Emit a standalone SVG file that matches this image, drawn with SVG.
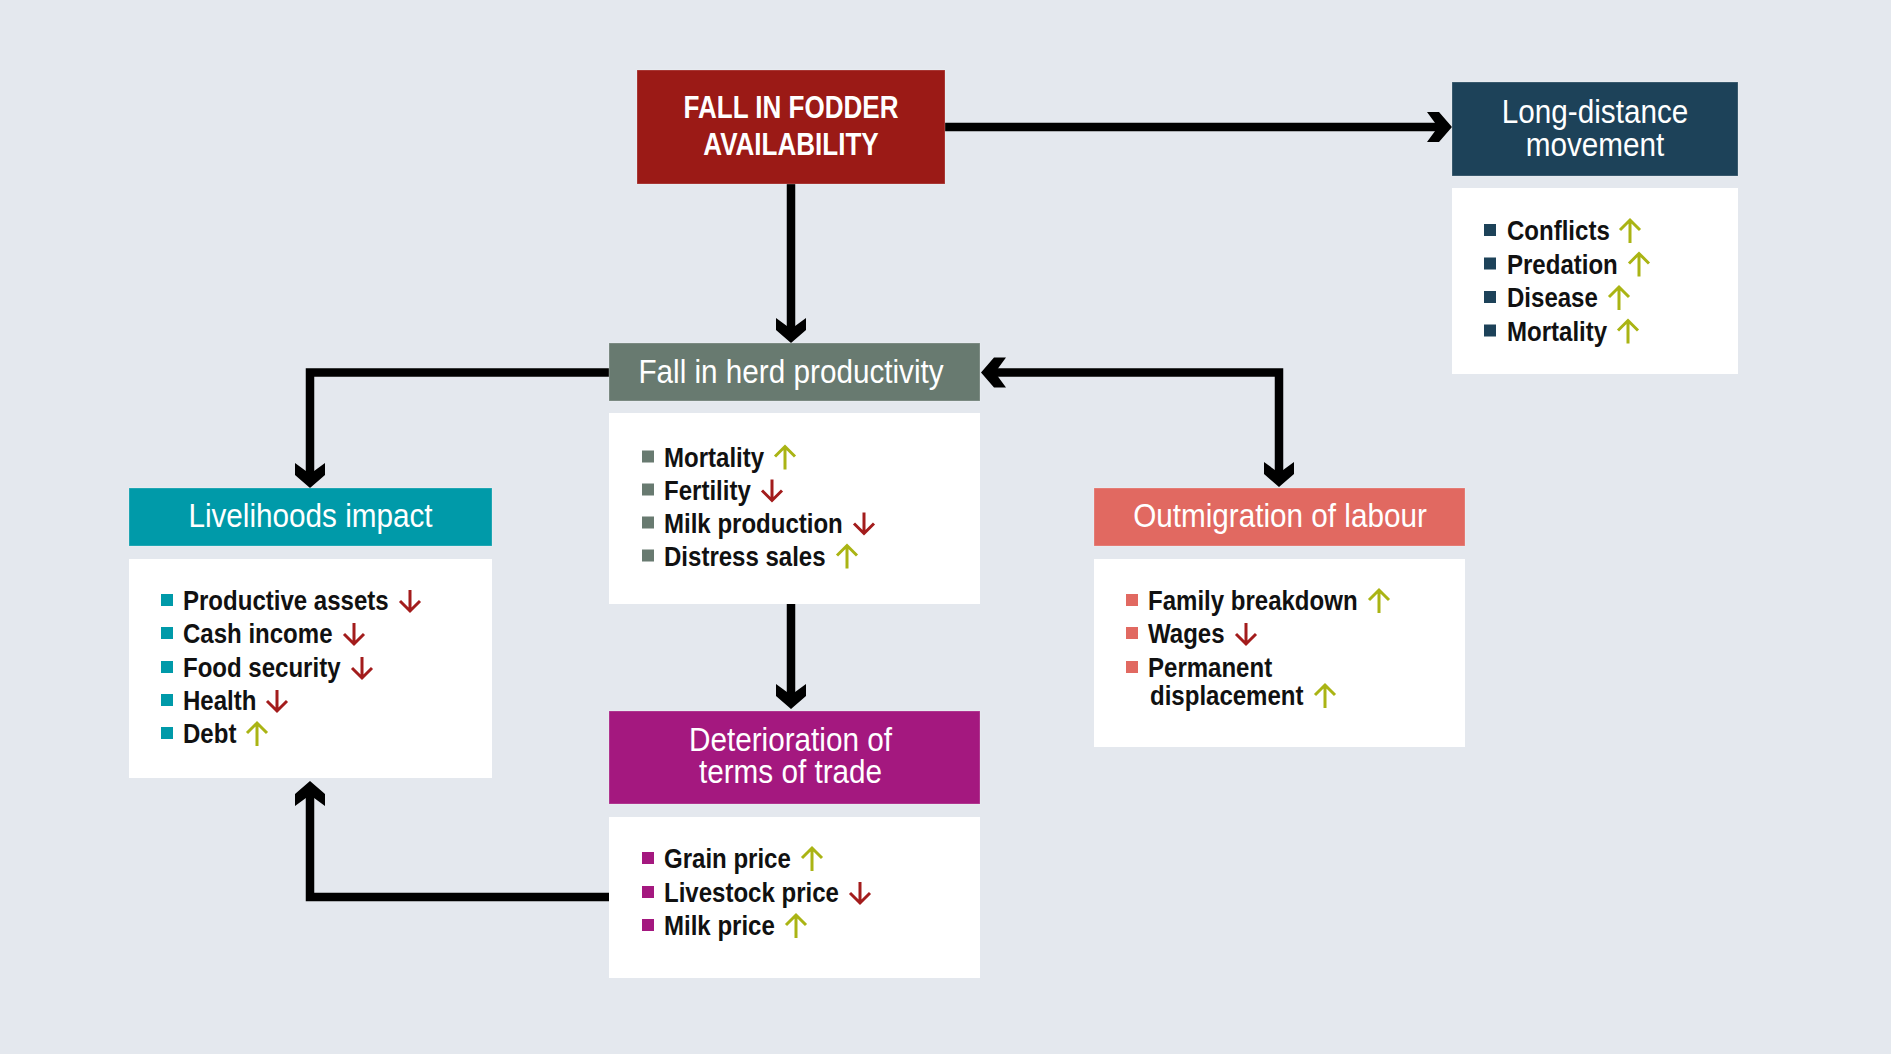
<svg xmlns="http://www.w3.org/2000/svg" width="1891" height="1054" viewBox="0 0 1891 1054">
<style>
.bg{fill:#e4e8ee}
.panel{fill:#ffffff}
.hdr{stroke:#ffffff;stroke-opacity:0.25;stroke-width:1}
.title{font-family:"Liberation Sans",Arial,sans-serif;font-size:33px;fill:#ffffff;text-anchor:middle}
.main{font-family:"Liberation Sans",Arial,sans-serif;font-size:31px;font-weight:bold;fill:#ffffff;text-anchor:middle}
.item{font-family:"Liberation Sans",Arial,sans-serif;font-size:27px;font-weight:bold;fill:#111111}
.up{fill:none;stroke:#aab414;stroke-width:3}
.dn{fill:none;stroke:#a31c1c;stroke-width:3}
.conn{fill:none;stroke:#000000;stroke-width:8.5;stroke-linejoin:miter}
</style>
<defs>
<marker id="chev" markerUnits="userSpaceOnUse" orient="auto-start-reverse" refX="0" refY="0" markerWidth="40" markerHeight="40" style="overflow:visible">
<path d="M7,0 L-6,-15 L-18,-15 L-7,0 L-18,15 L-6,15 Z" fill="#000000"/>
</marker>
<path id="arrUp" d="M11,-20 V3 M1,-10 L11,-20 L21,-10"/>
<path id="arrDn" d="M11,-20 V1 M1,-9 L11,1 L21,-9"/>
</defs>
<rect class="bg" x="0" y="0" width="1891" height="1054"/>

<g id="connectors">
<path class="conn" d="M945,127 H1445" marker-end="url(#chev)"/>
<path class="conn" d="M791,184 V336" marker-end="url(#chev)"/>
<path class="conn" d="M609,372.5 H310 V481" marker-end="url(#chev)"/>
<path class="conn" d="M988,372.5 H1279 V480" marker-start="url(#chev)" marker-end="url(#chev)"/>
<path class="conn" d="M791,604 V702" marker-end="url(#chev)"/>
<path class="conn" d="M609,897 H310 V788" marker-end="url(#chev)"/>
</g>

<g id="node-fodder">
<rect class="hdr" x="637" y="70" width="308" height="114" fill="#9b1a16"/>
<text class="main" transform="translate(791 118) scale(0.84 1)">FALL IN FODDER</text>
<text class="main" transform="translate(791 155) scale(0.84 1)">AVAILABILITY</text>
</g>

<g id="node-long-distance">
<rect class="hdr" x="1452" y="82" width="286" height="94" fill="#1d4259"/>
<text class="title" transform="translate(1595 123) scale(0.9 1)">Long-distance</text>
<text class="title" transform="translate(1595 156) scale(0.9 1)">movement</text>
<rect class="panel" x="1452" y="188" width="286" height="186"/>
<g fill="#1d4259">
<rect x="1484" y="224" width="12" height="12"/>
<rect x="1484" y="257.5" width="12" height="12"/>
<rect x="1484" y="291" width="12" height="12"/>
<rect x="1484" y="324.5" width="12" height="12"/>
</g>
<text class="item" transform="translate(1507 240) scale(0.89 1)">Conflicts</text>
<text class="item" transform="translate(1507 273.5) scale(0.89 1)">Predation</text>
<text class="item" transform="translate(1507 307) scale(0.89 1)">Disease</text>
<text class="item" transform="translate(1507 340.5) scale(0.89 1)">Mortality</text>
<use href="#arrUp" class="up" x="1619" y="240"/>
<use href="#arrUp" class="up" x="1628" y="273.5"/>
<use href="#arrUp" class="up" x="1608" y="307"/>
<use href="#arrUp" class="up" x="1617" y="340.5"/>
</g>

<g id="node-herd">
<rect class="hdr" x="609" y="343" width="371" height="58" fill="#687a70"/>
<text class="title" transform="translate(791 383) scale(0.9 1)">Fall in herd productivity</text>
<rect class="panel" x="609" y="413" width="371" height="191"/>
<g fill="#687a70">
<rect x="642" y="450.5" width="12" height="12"/>
<rect x="642" y="483.5" width="12" height="12"/>
<rect x="642" y="516.5" width="12" height="12"/>
<rect x="642" y="549.5" width="12" height="12"/>
</g>
<text class="item" transform="translate(664 466.5) scale(0.89 1)">Mortality</text>
<text class="item" transform="translate(664 499.5) scale(0.89 1)">Fertility</text>
<text class="item" transform="translate(664 532.5) scale(0.89 1)">Milk production</text>
<text class="item" transform="translate(664 565.5) scale(0.89 1)">Distress sales</text>
<use href="#arrUp" class="up" x="774" y="466.5"/>
<use href="#arrDn" class="dn" x="761" y="499.5"/>
<use href="#arrDn" class="dn" x="853" y="532.5"/>
<use href="#arrUp" class="up" x="836" y="565.5"/>
</g>

<g id="node-livelihoods">
<rect class="hdr" x="129" y="488" width="363" height="58" fill="#009aa9"/>
<text class="title" transform="translate(310.5 527) scale(0.9 1)">Livelihoods impact</text>
<rect class="panel" x="129" y="559" width="363" height="219"/>
<g fill="#009aa9">
<rect x="161" y="594" width="12" height="12"/>
<rect x="161" y="627" width="12" height="12"/>
<rect x="161" y="661" width="12" height="12"/>
<rect x="161" y="694" width="12" height="12"/>
<rect x="161" y="727" width="12" height="12"/>
</g>
<text class="item" transform="translate(183 610) scale(0.89 1)">Productive assets</text>
<text class="item" transform="translate(183 643) scale(0.89 1)">Cash income</text>
<text class="item" transform="translate(183 677) scale(0.89 1)">Food security</text>
<text class="item" transform="translate(183 710) scale(0.89 1)">Health</text>
<text class="item" transform="translate(183 743) scale(0.89 1)">Debt</text>
<use href="#arrDn" class="dn" x="399" y="610"/>
<use href="#arrDn" class="dn" x="343" y="643"/>
<use href="#arrDn" class="dn" x="351" y="677"/>
<use href="#arrDn" class="dn" x="266" y="710"/>
<use href="#arrUp" class="up" x="246" y="743"/>
</g>

<g id="node-outmigration">
<rect class="hdr" x="1094" y="488" width="371" height="58" fill="#e16961"/>
<text class="title" transform="translate(1280 527) scale(0.9 1)">Outmigration of labour</text>
<rect class="panel" x="1094" y="559" width="371" height="188"/>
<g fill="#e16961">
<rect x="1126" y="594" width="12" height="12"/>
<rect x="1126" y="627" width="12" height="12"/>
<rect x="1126" y="661" width="12" height="12"/>
</g>
<text class="item" transform="translate(1148 610) scale(0.89 1)">Family breakdown</text>
<text class="item" transform="translate(1148 643) scale(0.89 1)">Wages</text>
<text class="item" transform="translate(1148 677) scale(0.89 1)">Permanent</text>
<text class="item" transform="translate(1150 705) scale(0.89 1)">displacement</text>
<use href="#arrUp" class="up" x="1368" y="610"/>
<use href="#arrDn" class="dn" x="1235" y="643"/>
<use href="#arrUp" class="up" x="1314" y="705"/>
</g>

<g id="node-terms-of-trade">
<rect class="hdr" x="609" y="711" width="371" height="93" fill="#a4187f"/>
<text class="title" transform="translate(790.5 751) scale(0.9 1)">Deterioration of</text>
<text class="title" transform="translate(790.5 783) scale(0.9 1)">terms of trade</text>
<rect class="panel" x="609" y="817" width="371" height="161"/>
<g fill="#a4187f">
<rect x="642" y="852" width="12" height="12"/>
<rect x="642" y="886" width="12" height="12"/>
<rect x="642" y="919" width="12" height="12"/>
</g>
<text class="item" transform="translate(664 868) scale(0.89 1)">Grain price</text>
<text class="item" transform="translate(664 902) scale(0.89 1)">Livestock price</text>
<text class="item" transform="translate(664 935) scale(0.89 1)">Milk price</text>
<use href="#arrUp" class="up" x="801" y="868"/>
<use href="#arrDn" class="dn" x="849" y="902"/>
<use href="#arrUp" class="up" x="785" y="935"/>
</g>
</svg>
